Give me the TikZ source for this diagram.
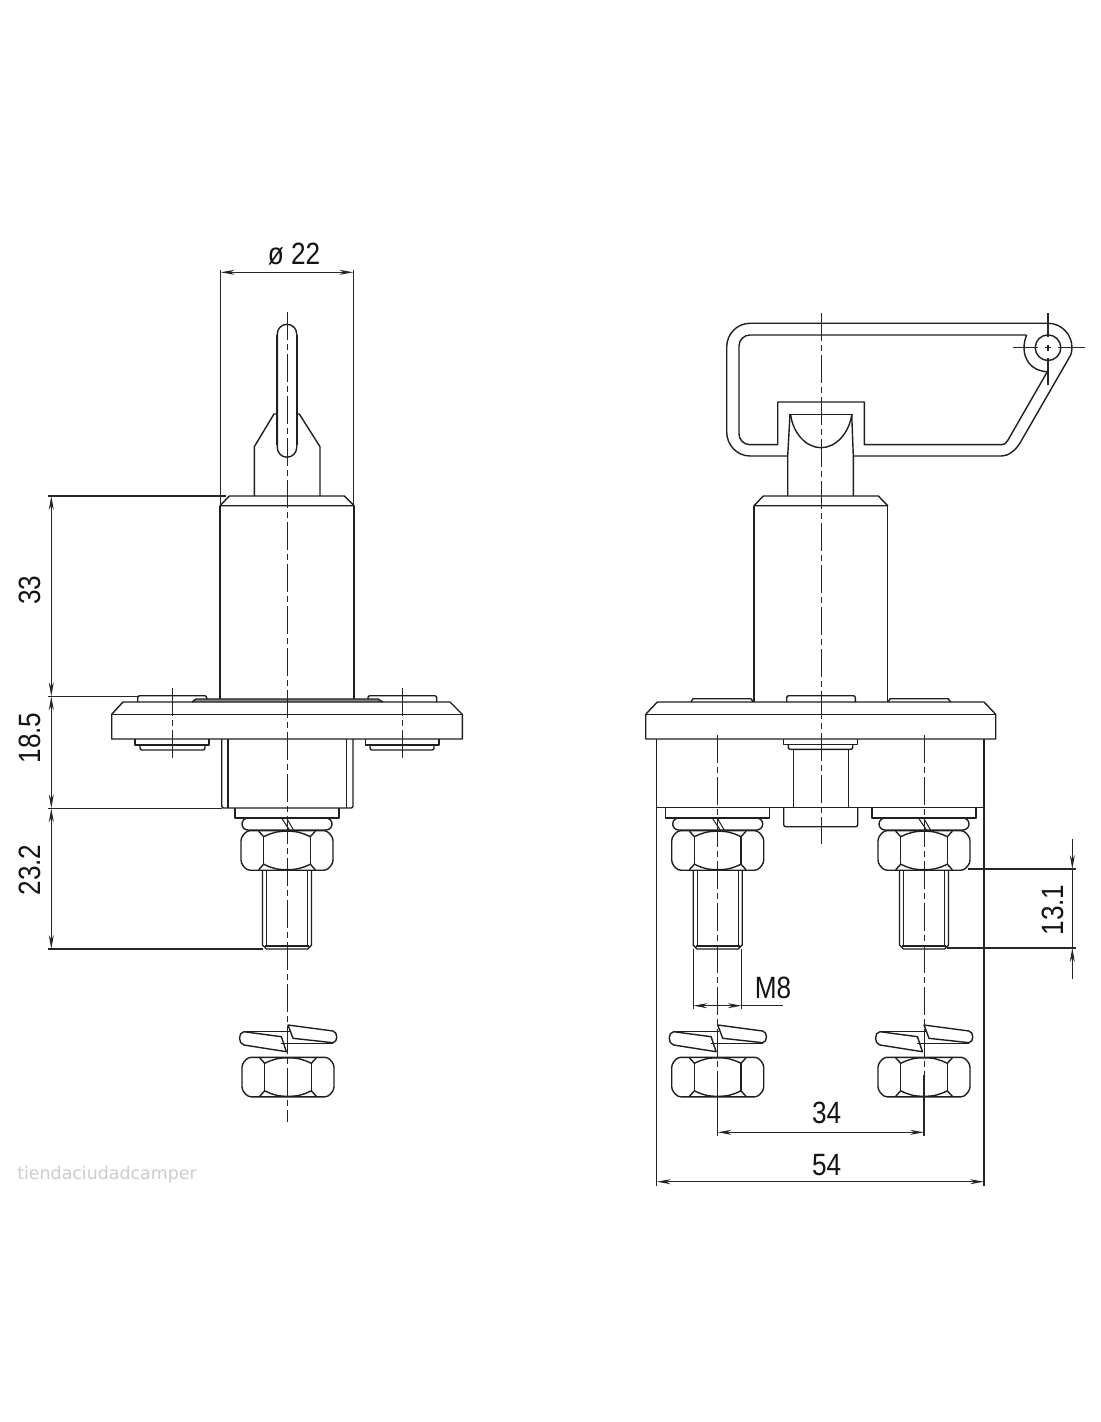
\documentclass[tikz,border=0pt]{standalone}
\usepackage{fontspec}
\usetikzlibrary{arrows.meta}
\setmainfont{Liberation Sans}
\newfontfamily\dimf[FakeStretch=0.85]{Liberation Sans}
\newfontfamily\wmf{DejaVu Sans}
\tikzset{
  obj/.style={line width=0.7pt,line join=round,draw=black!88},
  thin dim/.style={line width=0.55pt,draw=black!85},
  axisline/.style={line width=0.5pt,draw=black!85,dash pattern=on 14pt off 2pt on 3pt off 2pt},
  dimarrow/.style={thin dim,{Stealth[length=7pt,width=2.5pt]}-{Stealth[length=7pt,width=2.5pt]}},
  tipend/.style={thin dim,-{Stealth[length=7pt,width=2.5pt]}},
  dimtext/.style={font=\dimf\fontsize{15.4}{18}\selectfont,text=black!92,inner sep=0pt},
  wmtext/.style={font=\wmf\fontsize{8.7}{10}\selectfont,text=black!20,inner sep=0pt}
}
% hexagon nut: centre x, top y
\newcommand{\hexnut}[2]{%
\begin{scope}[shift={(#1,#2)}]
  \draw[obj,rounded corners=1.5pt] (-46,7) -- (-40,0) -- (40,0) -- (46,7) -- (46,32.5) -- (40,39.5) -- (-40,39.5) -- (-46,32.5) -- cycle;
  \draw[obj] (-23.3,6) -- (-23.3,33.5) (23.3,6) -- (23.3,33.5);
  \draw[obj] (-23.3,6) .. controls (-15,2) and (-10,0.5) .. (0,0.5) .. controls (10,0.5) and (15,2) .. (23.3,6);
  \draw[obj] (-23.3,33.5) .. controls (-15,37.5) and (-10,39) .. (0,39) .. controls (10,39) and (15,37.5) .. (23.3,33.5);
  \draw[obj] (-28.3,0.5) -- (-23.3,6) (28.3,0.5) -- (23.3,6) (-28.3,39) -- (-23.3,33.5) (28.3,39) -- (23.3,33.5);
\end{scope}}
% assembled terminal below the housing
\newcommand{\terminal}[1]{%
\begin{scope}[shift={(#1,0)}]
  \draw[obj] (-52,808) -- (-52,818) -- (52,818) -- (52,808);
  \draw[obj,rounded corners=3pt] (-45,818) rectangle (45,830);
  \draw[obj,line width=0.5pt] (-5.5,818) -- (2.5,830) (-0.5,818) -- (6.5,830);
  \draw[obj] (-24.5,870) -- (-24.5,945) -- (-20.5,949) -- (20.5,949) -- (24.5,945) -- (24.5,870);
  \draw[obj,line width=0.55pt] (-20.5,870) -- (-20.5,946) (20.5,870) -- (20.5,946) (-22,946) -- (22,946);
\end{scope}
\hexnut{#1}{830.7}}
% loose split washer and nut
\newcommand{\loosehw}[1]{%
\begin{scope}[shift={(#1,0)}]
  \draw[obj] (-44,1031.7) .. controls (-50,1032) and (-50,1044) .. (-44,1045) -- (-1.6,1051.7) -- (-6.6,1036.7) -- cycle;
  \draw[obj] (-44,1031.7) -- (1.7,1031.7);
  \draw[obj] (0,1025) -- (45,1031) .. controls (50,1032) and (50,1042) .. (45,1042.7) -- (5,1038.3) -- cycle;
  \draw[obj] (-6.6,1043.3) -- (45,1043.3);
\end{scope}
\hexnut{#1}{1057.3}}
\begin{document}
\begin{tikzpicture}[x=0.5pt,y=-0.5pt]
\useasboundingbox (0,0) rectangle (1100,1422);
\fill[white] (0,0) rectangle (1100,1422);

%%% LEFT VIEW
% key
\draw[obj] (277.3,334) arc[start angle=180,end angle=0,radius=4.85pt] -- (296.7,447.5) arc[start angle=0,end angle=-180,radius=4.85pt] -- cycle;
\draw[obj,line width=1.2pt] (277,335) -- (277,445) (297,335) -- (297,445);
\draw[obj] (254.3,496) -- (254.3,446.7) -- (274,414) -- (277,414);
\draw[obj] (320,496) -- (320,446.7) -- (299.3,414) -- (297,414);
% cylinder
\draw[obj] (220,505.7) -- (229.3,496) -- (344.3,496) -- (354,505.7) -- cycle;
\draw[obj] (220,505.7) -- (220,699) (354,505.7) -- (354,699);
% seal + screw heads
\fill[black!45] (192,702) -- (196,699) -- (378,699) -- (382.7,702) -- cycle;
\draw[obj] (192,702) -- (196,699) -- (378,699) -- (382.7,702);
\draw[obj,rounded corners=1pt] (137.7,702) -- (137.7,695.7) -- (206.7,695.7) -- (206.7,699);
\draw[obj,rounded corners=1pt] (368,699) -- (368,695.7) -- (436.7,695.7) -- (436.7,702);
% plate
\draw[obj] (111.7,714.3) -- (123,702) -- (450,702) -- (462.3,714.3) -- (462.3,739) -- (111.7,739) -- cycle;
\draw[obj] (111.7,714.3) -- (462.3,714.3);
% washers under plate
\draw[obj] (135,739) -- (135,745) -- (209,745) -- (209,739);
\draw[obj,rounded corners=1pt] (140,745) -- (140,750) -- (205,750) -- (205,745);
\draw[obj] (365.7,739) -- (365.7,745) -- (439,745) -- (439,739);
\draw[obj,rounded corners=1pt] (370,745) -- (370,750) -- (434,750) -- (434,745);
% housing
\draw[obj,rounded corners=1pt] (221.7,739) -- (221.7,808) -- (353,808) -- (353,739);
\draw[obj] (228,739) -- (228,808) (346.7,739) -- (346.7,808);
\terminal{287}
\loosehw{288}
% axes
\draw[axisline] (287.3,312) -- (287.3,1122);
\draw[axisline] (172,688) -- (172,760);
\draw[axisline] (402,688) -- (402,760);

%%% RIGHT VIEW
% key handle
\draw[obj] (787.3,456) -- (750,456) .. controls (737,456) and (726.7,445) .. (726.7,432) -- (726.7,347) .. controls (726.7,334) and (737,323.3) .. (750,323.3) -- (1048,323.3) .. controls (1062,323.3) and (1072,335) .. (1072,347.7) .. controls (1072,351) and (1071.5,354) .. (1069,358) -- (1020,443) .. controls (1015,451) and (1008,456) .. (1001.7,456) -- (853.3,456);
\draw[obj] (1026.7,335) -- (750,335) .. controls (744,335) and (739,340) .. (739,346) -- (739,434) .. controls (739,440) and (744,444.7) .. (750,444.7) -- (777.7,444.7) -- (777.7,402) -- (864.3,402) -- (864.3,444.7) -- (1001.7,444.7) .. controls (1004.5,444.7) and (1006.5,443) .. (1008,440) -- (1047.3,371.7) .. controls (1030,371) and (1024,358) .. (1024,348) .. controls (1024,343) and (1025,339) .. (1026.7,335);
\draw[obj] (1048,347.7) circle[radius=6.4pt];
\draw[thin dim] (1012.7,347.7) -- (1038,347.7) (1045,347.7) -- (1051,347.7) (1058,347.7) -- (1085,347.7);
\draw[thin dim] (1048,313.3) -- (1048,337) (1048,344.7) -- (1048,350.7) (1048,358) -- (1048,385);
% shaft
\draw[obj] (787.7,496) -- (787.7,456) -- (790,414.3) (853.3,496) -- (853.3,456) -- (851.7,414.3);
\draw[obj] (788.7,414.3) -- (852.7,414.3);
\draw[obj] (790.7,415) .. controls (793,433) and (806,447.7) .. (821,447.7) .. controls (836,447.7) and (849,433) .. (851.7,415);
% cylinder
\draw[obj] (754,505.7) -- (763.3,496) -- (878.3,496) -- (887.7,505.7) -- cycle;
\draw[obj] (754,505.7) -- (754,702) (887.7,505.7) -- (887.7,702);
% heads on plate
\draw[obj,rounded corners=1pt] (786.7,702) -- (786.7,695.7) -- (855.3,695.7) -- (855.3,702);
\draw[obj] (691,702) -- (693,698.7) -- (751,698.7) -- (753.3,702);
\draw[obj] (888.3,702) -- (890,698.7) -- (948,698.7) -- (950.7,702);
% plate
\draw[obj] (645.7,714.3) -- (657.3,702) -- (984,702) -- (995.7,714.3) -- (995.7,739) -- (645.7,739) -- cycle;
\draw[obj] (645.7,714.3) -- (995.7,714.3);
% housing
\draw[obj] (656.7,739) -- (656.7,807.7) (984,739) -- (984,807.7) (656.7,807.7) -- (984,807.7);
% centre stud
\draw[obj] (783.7,739) -- (783.7,744.3) -- (857.7,744.3) -- (857.7,739);
\draw[obj,rounded corners=1pt] (788.3,744.3) -- (788.3,749.3) -- (852.7,749.3) -- (852.7,744.3);
\draw[obj] (793.3,749.3) -- (793.3,807.7) (848.7,749.3) -- (848.7,807.7);
\draw[obj,rounded corners=1pt] (783.7,807.7) -- (783.7,826.7) -- (857.7,826.7) -- (857.7,807.7);
\terminal{717.7}
\terminal{924}
\loosehw{717.7}
\loosehw{924}
% axes
\draw[axisline] (821,313) -- (821,844);
\draw[axisline] (717.7,735) -- (717.7,1075);
\draw[axisline] (924,735) -- (924,1075);

%%% DIMENSIONS
\coordinate (eA) at (220.7,270);
\coordinate (eB) at (353.3,270);
\draw[thin dim] (220.7,505) -- (eA) (353.3,505) -- (eB);
\draw[dimarrow] (220.7,272.3) -- (353.3,272.3);
\node[dimtext] (d22) at (294,254) {ø 22};

\draw[thin dim] (226,496) -- (48.3,496);
\draw[thin dim] (137.7,696.3) -- (48.3,696.3);
\draw[thin dim] (221.7,808.3) -- (48.3,808.3);
\draw[thin dim] (263,949) -- (48.3,949);
\draw[dimarrow] (51.3,496) -- (51.3,696.3);
\draw[dimarrow] (51.3,696.3) -- (51.3,808.3);
\draw[dimarrow] (51.3,808.3) -- (51.3,949);
\node[dimtext,rotate=90] (d33) at (30,590) {33};
\node[dimtext,rotate=90] (d185) at (30,738) {18.5};
\node[dimtext,rotate=90] (d232) at (30,870) {23.2};

% right view
\draw[thin dim] (656.7,807.7) -- (656.7,1186) (984,807.7) -- (984,1186);
\draw[dimarrow] (656.7,1181.7) -- (984,1181.7);
\node[dimtext] (d54) at (826.7,1165) {54};
\draw[thin dim] (717.5,1075) -- (717.5,1136) (924,1075) -- (924,1136);
\draw[dimarrow] (717.5,1132.3) -- (924,1132.3);
\node[dimtext] (d34) at (826.7,1113.3) {34};
\draw[thin dim] (693.3,949) -- (693.3,1008.5) (741.7,949) -- (741.7,1008.5);
\draw[dimarrow] (693.3,1005.7) -- (741.7,1005.7);
\draw[thin dim] (741.7,1005.7) -- (782.7,1005.7);
\node[dimtext] (dm8) at (773,988) {M8};
\draw[thin dim] (968,869) -- (1075.7,869) (947,948) -- (1075.7,948);
\draw[tipend] (1072.3,839) -- (1072.3,869);
\draw[tipend] (1072.3,979) -- (1072.3,948);
\draw[thin dim] (1072.3,869) -- (1072.3,948);
\node[dimtext,rotate=90] (d131) at (1052.7,910) {13.1};

\node[wmtext] (wm) at (107,1175) {tiendaciudadcamper};
\end{tikzpicture}
\end{document}
